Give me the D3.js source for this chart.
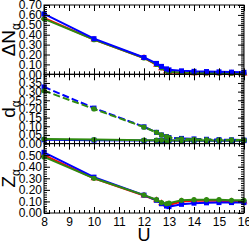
<!DOCTYPE html>
<html><head><meta charset="utf-8">
<script src="https://cdn.jsdelivr.net/npm/d3@7"></script>
<style>body{margin:0;background:#fff}svg{display:block}text{font-family:"Liberation Sans",Arial,sans-serif}</style>
</head><body><svg id="c" width="249" height="243"></svg>
<script>
const uVals = [8, 10, 12, 12.5, 12.7, 12.9, 13, 13.5, 14, 14.5, 15, 15.5, 16];
const xTicks = [8, 9, 10, 11, 12, 13, 14, 15, 16];

const dnBlue  = [0.61, 0.36, 0.17, 0.11, 0.08, 0.055, 0.045, 0.035, 0.03, 0.028, 0.025, 0.022, 0.02];
const dnRed   = [0.57, 0.35, 0.165, 0.095, 0.06, 0.03, 0.02, 0.012, 0.01, 0.01, 0.01, 0.008, 0.008];
const dnGreen = [0.56, 0.35, 0.165, 0.10, 0.065, 0.035, 0.025, 0.018, 0.015, 0.013, 0.012, 0.011, 0.01];

const dBlueDash  = [0.327, 0.205, 0.097, 0.065, 0.05, 0.04, 0.035, 0.03, 0.027, 0.025, 0.023, 0.022, 0.02];
const dGreenDash = [0.305, 0.20, 0.095, 0.065, 0.05, 0.04, 0.035, 0.028, 0.025, 0.023, 0.022, 0.021, 0.02];
const dBlueSolid = [0.022, 0.02, 0.018, 0.018, 0.018, 0.018, 0.018, 0.017, 0.017, 0.017, 0.017, 0.017, 0.017];
const dGreenSolid= [0.026, 0.023, 0.02, 0.02, 0.02, 0.019, 0.019, 0.018, 0.018, 0.018, 0.018, 0.018, 0.018];

const zBlue  = [0.525, 0.31, 0.155, 0.11, 0.08, 0.06, 0.055, 0.075, 0.085, 0.088, 0.09, 0.09, 0.09];
const zRed   = [0.50, 0.30, 0.15, 0.11, 0.085, 0.07, 0.07, 0.10, 0.105, 0.105, 0.105, 0.10, 0.10];
const zGreen = [0.485, 0.30, 0.155, 0.115, 0.09, 0.08, 0.085, 0.11, 0.115, 0.115, 0.115, 0.11, 0.11];

const topTicks = [0, 0.1, 0.2, 0.3, 0.4, 0.5, 0.6, 0.7];
const midTicks = [0, 0.05, 0.1, 0.15, 0.2, 0.25, 0.3, 0.35];
const botTicks = [0, 0.1, 0.2, 0.3, 0.4, 0.5];

const BLUE = "#0000ff", RED = "#ff0000", GREEN = "#2f8a10";
const svg = d3.select("#c");
const L = 44, R = 244;
const x = d3.scaleLinear().domain([8, 16]).range([L, R]);
const bounds = [5, 74.3, 143.6, 213];

const panels = [
  {dom: [0, 0.7], ticks: topTicks, minor: 0.02, label: "ΔN", series: [
    {v: dnRed, c: RED, m: "tri"}, {v: dnGreen, c: GREEN, m: "circ"}, {v: dnBlue, c: BLUE, m: "sq"}]},
  {dom: [0, 0.4], ticks: midTicks, minor: 0.01, label: "d", series: [
    {v: dBlueSolid, c: BLUE, m: "sq"}, {v: dGreenSolid, c: GREEN, m: "circ"},
    {v: dBlueDash, c: BLUE, m: "sq", dash: "7,3"}, {v: dGreenDash, c: GREEN, m: "circ", dash: "7,3"}]},
  {dom: [0, 0.6], ticks: botTicks, minor: 0.02, label: "Z", series: [
    {v: zRed, c: RED, m: "tri"}, {v: zBlue, c: BLUE, m: "sq"}, {v: zGreen, c: GREEN, m: "circ"}]}
];

const xMinor = d3.range(8, 16.001, 0.2);

panels.forEach((p, i) => {
  const y0 = bounds[i], y1 = bounds[i + 1];
  const y = d3.scaleLinear().domain(p.dom).range([y1, y0]);
  const g = svg.append("g");
  p.series.forEach(s => {
    const line = d3.line().x((d, k) => x(uVals[k])).y(d => y(d));
    g.append("path").datum(s.v).attr("d", line).attr("fill", "none")
      .attr("stroke", s.c).attr("stroke-width", 2).attr("stroke-dasharray", s.dash || null);
    const pts = g.selectAll(null).data(s.v).enter();
    if (s.m === "sq") {
      pts.append("rect").attr("x", (d, k) => x(uVals[k]) - 2.5).attr("y", d => y(d) - 2.5)
        .attr("width", 5).attr("height", 5).attr("fill", s.c);
    } else if (s.m === "circ") {
      pts.append("circle").attr("cx", (d, k) => x(uVals[k])).attr("cy", d => y(d)).attr("r", 2.6).attr("fill", s.c);
    } else {
      pts.append("path").attr("d", d3.symbol(d3.symbolTriangle, 20))
        .attr("transform", (d, k) => `translate(${x(uVals[k])},${y(d)})`).attr("fill", s.c);
    }
  });
  const left = g.append("g").attr("transform", `translate(${L},0)`)
    .call(d3.axisLeft(y).tickValues(p.ticks).tickFormat(d3.format(".2f")).tickSizeInner(-6).tickSizeOuter(0).tickPadding(2));
  left.select(".domain").remove();
  left.selectAll("text").attr("font-size", 12).attr("fill", "#000").attr("font-family", "Liberation Sans, Arial, sans-serif");
  const minorY = d3.range(p.dom[0], p.dom[1] + 1e-9, p.minor);
  const mL = g.append("g").attr("transform", `translate(${L},0)`)
    .call(d3.axisLeft(y).tickValues(minorY).tickFormat("").tickSizeInner(-3).tickSizeOuter(0));
  mL.select(".domain").remove();
  const right = g.append("g").attr("transform", `translate(${R},0)`)
    .call(d3.axisRight(y).tickValues(p.ticks).tickFormat("").tickSizeInner(-6).tickSizeOuter(0));
  right.select(".domain").remove();
  const mR = g.append("g").attr("transform", `translate(${R},0)`)
    .call(d3.axisRight(y).tickValues(minorY).tickFormat("").tickSizeInner(-3).tickSizeOuter(0));
  mR.select(".domain").remove();
  [[y1, d3.axisBottom, -1], [y0, d3.axisTop, 1]].forEach(([yy, ax, s]) => {
    const a = g.append("g").attr("transform", `translate(0,${yy})`)
      .call(ax(x).tickValues(xTicks).tickFormat(i === 2 && s === -1 ? d3.format("d") : "").tickSizeInner(-6).tickSizeOuter(0).tickPadding(4));
    a.select(".domain").remove();
    a.selectAll("text").attr("font-size", 12).attr("fill", "#000");
    const b = g.append("g").attr("transform", `translate(0,${yy})`)
      .call(ax(x).tickValues(xMinor).tickFormat("").tickSizeInner(-3).tickSizeOuter(0));
    b.select(".domain").remove();
  });
  g.selectAll(".tick line").attr("stroke", "#000");
  g.append("rect").attr("x", L).attr("y", y0).attr("width", R - L).attr("height", y1 - y0)
    .attr("fill", "none").attr("stroke", "#000").attr("stroke-width", 1);
  const cy = (y0 + y1) / 2;
  const t = svg.append("text").attr("transform", `translate(15,${cy}) rotate(-90)`)
    .attr("text-anchor", "middle").attr("font-size", 19).attr("fill", "#000");
  t.append("tspan").text(p.label);
  t.append("tspan").attr("font-size", 12).attr("dy", 5).text("α");
});

svg.append("text").attr("x", x(12)).attr("y", 241).attr("text-anchor", "middle")
  .attr("font-size", 18).attr("fill", "#000").text("U");
</script></body></html>
